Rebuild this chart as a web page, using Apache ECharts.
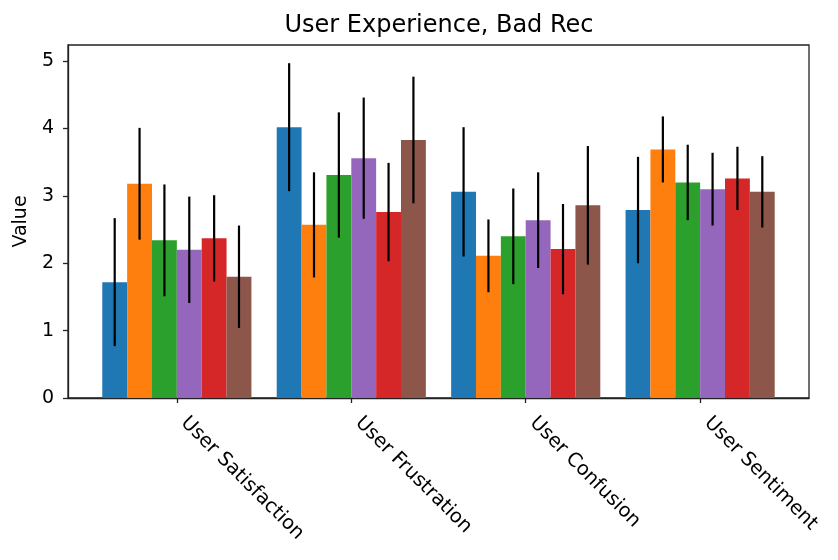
<!DOCTYPE html>
<html>
<head>
<meta charset="utf-8">
<script src="https://cdn.jsdelivr.net/npm/echarts@6/dist/echarts.min.js"></script>
<style>
  html, body { margin: 0; padding: 0; background: #fff; }
  #container { width: 838px; height: 560px; }
</style>
</head>
<body>
<div id="container"></div>
<script>
var categories = ['User Satisfaction', 'User Frustration', 'User Confusion', 'User Sentiment'];
var yTicks = [0, 1, 2, 3, 4, 5];
var colors = ['#1f77b4', '#ff7f0e', '#2ca02c', '#9467bd', '#d62728', '#8c564b'];

// bar heights, one array per bar colour (4 categories each)
var blueVals   = [1.72, 4.02, 3.06, 2.79];
var orangeVals = [3.18, 2.57, 2.11, 3.69];
var greenVals  = [2.34, 3.31, 2.40, 3.20];
var purpleVals = [2.20, 3.56, 2.64, 3.10];
var redVals    = [2.37, 2.76, 2.21, 3.26];
var brownVals  = [1.80, 3.83, 2.86, 3.06];

// error bar half lengths
var blueErr   = [0.95, 0.95, 0.96, 0.79];
var orangeErr = [0.83, 0.78, 0.54, 0.49];
var greenErr  = [0.83, 0.93, 0.71, 0.56];
var purpleErr = [0.79, 0.90, 0.71, 0.54];
var redErr    = [0.64, 0.73, 0.67, 0.47];
var brownErr  = [0.76, 0.94, 0.88, 0.53];

var values = [blueVals, orangeVals, greenVals, purpleVals, redVals, brownVals];
var errors = [blueErr, orangeErr, greenErr, purpleErr, redErr, brownErr];

var barW = 0.1425;
var font = 'DejaVu Sans';

var dom = document.getElementById('container');
var myChart = echarts.init(dom, null, { renderer: 'canvas' });

var series = values.map(function (vals, i) {
  var offset = (i - 2.5) * barW;
  return {
    type: 'custom',
    name: 'S' + (i + 1),
    encode: { x: 0, y: 1 },
    data: vals.map(function (v, j) { return [j, v, errors[i][j]]; }),
    renderItem: function (params, api) {
      var cx = api.value(0) + offset;
      var v = api.value(1);
      var e = api.value(2);
      var p0 = api.coord([cx - barW / 2, 0]);
      var p1 = api.coord([cx + barW / 2, v]);
      var top = api.coord([cx, v + e]);
      var bot = api.coord([cx, v - e]);
      return {
        type: 'group',
        children: [{
          type: 'rect',
          shape: { x: p0[0], y: p1[1], width: p1[0] - p0[0], height: p0[1] - p1[1] },
          style: { fill: colors[i] }
        }, {
          type: 'line',
          shape: { x1: top[0], y1: top[1], x2: bot[0], y2: bot[1] },
          style: { stroke: '#000', lineWidth: 2.2 }
        }]
      };
    }
  };
});

var option = {
  animation: false,
  title: {
    text: 'User Experience, Bad Rec',
    left: 434,
    textAlign: 'center',
    top: 9,
    textStyle: { fontFamily: font, fontSize: 24, fontWeight: 'normal', color: '#000' }
  },
  grid: {
    left: 68, right: 29, top: 45, bottom: 162,
    show: true, borderColor: '#222', borderWidth: 1.3, backgroundColor: 'transparent'
  },
  xAxis: {
    type: 'value',
    min: -0.624,
    max: 3.624,
    splitLine: { show: false },
    axisLine: { show: true, onZero: false, lineStyle: { color: '#222', width: 1.3 } },
    axisTick: { show: true, length: 5, lineStyle: { color: '#222', width: 1.3 }, customValues: [0, 1, 2, 3] },
    axisLabel: {
      customValues: [0, 1, 2, 3],
      rotate: -45,
      margin: 29,
      verticalAlign: 'bottom',
      fontFamily: font,
      fontSize: 19.5,
      color: '#000',
      formatter: function (v) { return categories[Math.round(v)]; }
    }
  },
  yAxis: {
    type: 'value',
    min: 0,
    max: 5.24,
    name: 'Value',
    nameLocation: 'middle',
    nameGap: 34,
    nameTextStyle: { fontFamily: font, fontSize: 19, color: '#000' },
    splitLine: { show: false },
    axisLine: { show: true, onZero: false, lineStyle: { color: '#222', width: 1.3 } },
    axisTick: { show: true, length: 5, lineStyle: { color: '#222', width: 1.3 }, customValues: yTicks },
    axisLabel: { customValues: yTicks, margin: 14, fontFamily: font, fontSize: 19, color: '#000' }
  },
  series: series
};

myChart.setOption(option);
</script>
</body>
</html>
